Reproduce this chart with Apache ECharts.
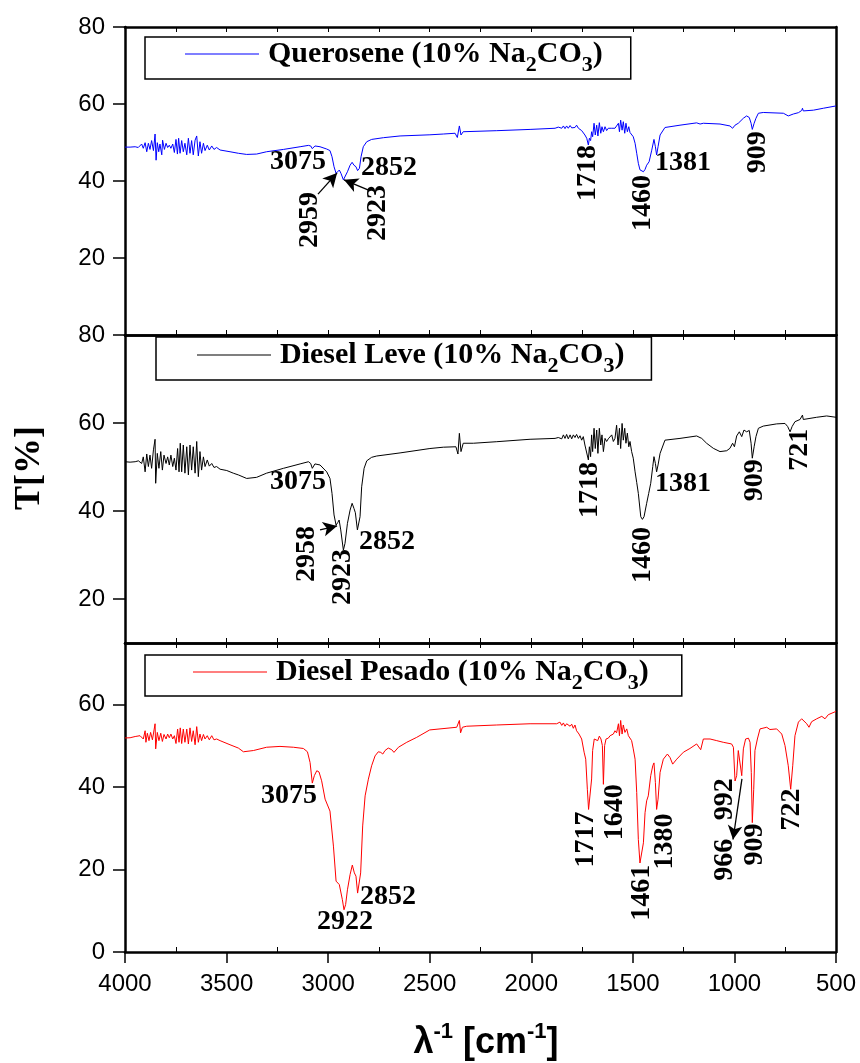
<!DOCTYPE html>
<html>
<head>
<meta charset="utf-8">
<script src="https://cdn.jsdelivr.net/npm/echarts@6/dist/echarts.min.js"></script>
<style>html,body{margin:0;padding:0;background:#fff}#c{width:860px;height:1063px}</style>
</head>
<body>
<div id="c"></div>
<script>
// ---- data: [wavenumber cm-1, T %] ----
const querosene = [[4000,48.8],[3975,48.8],[3950,48.9],[3935,48.7],
[3926,48.9],[3918,49.6],[3910,48.5],[3901,49.95],[3893,47.6],[3885,49.8],[3877,48.2],[3869,50.5],[3860,47.9],[3852,52.2],[3847,45.4],[3841,49.95],[3834,47.6],[3828,49.6],[3819,46.8],[3815,50.6],[3806,48.2],[3798,49.8],[3790,48.7],[3782,49.3],[3774,48.5],[3765,49.6],[3757,47.4],[3749,50.8],[3742,47.0],[3736,51.1],[3729,47.2],[3721,50.5],[3713,47.6],[3705,49.8],[3696,46.8],[3688,51.1],[3680,47.2],[3672,50.5],[3664,46.8],[3655,50.6],[3647,51.7],[3639,46.5],[3631,50.2],[3623,47.2],[3614,49.8],[3606,47.9],[3595,49.3],[3585,48.05],[3573,49.1],[3562,48.2],[3549,48.7],[3532,48.05],[3483,47.6],[3442,47.2],
[3401,46.9],[3352,47.0],[3303,47.6],[3220,48.2],[3138,48.9],[3097,49.25],[3086,49.1],[3078,48.4],[3065,49.1],[3040,48.9],[3007,48.3],[2991,47.9],[2981,46.3],[2971,43.7],[2961,42.0],[2953,42.4],[2945,42.85],[2937,42.0],[2925,40.3],[2917,40.4],[2905,42.4],[2892,44.1],[2882,44.85],[2873,44.1],[2863,43.7],[2855,42.7],[2846,43.3],[2838,46.3],[2827,48.9],[2810,50.2],[2786,50.8],[2728,51.25],[2646,51.7],[2499,52.0],[2433,52.2],[2375,52.4],[2364,51.3],[2354,54.3],[2346,51.95],[2335,52.8],[2170,53.07],[2006,53.4],
[1883,53.7],[1867,54.0],[1850,53.7],[1842,54.3],[1834,53.6],[1826,54.3],[1818,53.7],[1809,54.4],[1801,53.8],[1793,54.3],[1785,53.9],[1777,54.5],[1768,53.7],[1760,54.1],[1752,53.1],[1744,53.2],[1736,51.95],[1727,51.1],[1719,49.35],[1714,51.1],[1708,50.5],[1703,52.8],[1698,51.5],[1691,55.0],[1685,51.95],[1678,54.5],[1672,51.7],[1665,55.15],[1658,52.4],[1652,54.1],[1645,52.8],[1637,54.1],[1629,53.1],[1621,53.7],[1612,53.2],[1604,53.7],[1596,53.4],[1588,53.7],[1580,54.1],[1571,55.0],[1566,52.8],[1560,55.8],[1553,53.2],[1547,55.4],[1540,52.4],[1534,55.0],[1527,52.8],[1520,54.1],[1514,52.6],[1506,52.8],[1498,51.5],[1489,49.8],[1481,47.2],[1473,44.6],[1465,42.9],[1457,42.7],[1448,42.4],[1440,43.0],[1432,44.1],[1420,45.0],[1407,48.0],[1396,50.8],[1389,48.9],[1383,46.75],[1376,48.9],[1366,51.95],[1342,53.9],[1268,54.5],[1186,55.1],[1169,54.8],[1153,55.0],[1071,54.8],[1022,54.3],[1009,53.7],[997,54.5],[981,55.0],[956,56.3],[940,56.9],[927,56.5],[918,55.0],[912,53.4],[903,55.0],[894,56.3],[882,57.6],[858,57.8],[759,57.6],[735,56.9],[726,56.4],[710,57.4],[685,57.75],[669,58.3],[665,58.9],[661,58.2],[611,58.4],[562,58.9],[500,59.5]];

const dieselLeve = [[4000,51.2],[3975,51.1],[3950,51.2],[3943,50.8],[3934,51.4],
[3926,51.7],[3918,50.8],[3910,52.3],[3901,48.9],[3893,52.96],[3885,50.1],[3877,52.7],[3869,49.7],[3860,53.9],[3852,56.3],[3849,46.3],[3841,53.1],[3833,49.7],[3824,53.5],[3816,49.3],[3808,52.7],[3798,50.8],[3790,52.3],[3782,50.45],[3774,52.7],[3765,50.1],[3757,52.0],[3749,49.3],[3741,54.2],[3734,48.9],[3728,55.4],[3721,48.9],[3713,55.0],[3705,48.6],[3696,54.6],[3688,48.2],[3680,55.0],[3672,49.3],[3664,54.6],[3655,48.6],[3647,55.8],[3639,47.8],[3631,53.5],[3623,49.3],[3614,52.3],[3606,50.1],[3595,51.6],[3585,50.2],[3573,50.8],[3562,49.9],[3549,50.1],[3532,49.5],[3499,49.2],[3467,48.6],[3442,48.2],
[3401,47.4],[3352,47.65],[3303,48.6],[3220,49.7],[3138,50.7],[3097,51.2],[3086,50.8],[3078,49.7],[3065,50.7],[3040,50.46],[3007,48.9],[2991,47.4],[2981,44.0],[2971,39.1],[2961,36.8],[2953,37.35],[2946,37.95],[2938,35.7],[2925,31.1],[2917,32.65],[2905,37.2],[2892,40.2],[2882,41.75],[2873,40.6],[2866,39.6],[2856,35.7],[2850,35.3],[2843,38.7],[2835,45.5],[2823,49.7],[2810,51.4],[2786,52.2],[2761,52.5],[2646,53.2],[2499,54.2],[2433,54.5],[2371,54.6],[2361,52.95],[2354,57.65],[2346,53.5],[2335,55.4],[2285,55.4],[2170,55.75],[2006,56.3],
[1883,56.5],[1867,56.7],[1859,57.1],[1850,56.4],[1842,57.3],[1834,56.5],[1826,57.4],[1818,56.4],[1809,57.3],[1801,56.4],[1793,57.3],[1785,56.7],[1777,57.4],[1768,56.5],[1760,57.1],[1752,56.1],[1744,56.9],[1736,55.0],[1727,55.4],[1719,51.6],[1714,54.6],[1708,52.35],[1703,57.3],[1698,53.5],[1691,58.8],[1685,54.2],[1678,58.4],[1672,53.1],[1665,58.8],[1658,55.0],[1652,57.3],[1645,53.5],[1637,56.5],[1629,55.8],[1621,56.4],[1612,56.1],[1604,57.3],[1596,55.8],[1588,56.5],[1580,59.5],[1573,55.0],[1566,58.8],[1560,54.2],[1553,59.9],[1547,56.1],[1540,58.8],[1534,55.4],[1527,57.7],[1520,54.6],[1514,55.8],[1506,53.5],[1498,52.0],[1489,48.9],[1481,46.5],[1473,44.0],[1461,38.7],[1453,38.1],[1445,38.7],[1432,41.75],[1422,44.0],[1412,46.3],[1402,50.1],[1396,52.35],[1389,50.8],[1383,48.9],[1376,50.46],[1366,53.1],[1342,56.1],[1268,56.5],[1186,57.05],[1161,56.5],[1137,55.4],[1104,54.25],[1071,53.5],[1038,53.7],[1022,54.25],[1009,55.4],[1000,54.6],[989,57.05],[976,58.0],[964,56.9],[953,58.4],[940,58.0],[927,58.3],[918,55.4],[912,52.0],[903,54.6],[894,56.9],[882,58.8],[858,59.3],[792,59.8],[751,59.9],[738,59.2],[726,58.0],[716,59.2],[702,60.3],[677,60.8],[665,61.8],[661,60.8],[595,61.3],[546,61.6],[500,61.3]];

const dieselPesado = [[4000,51.95],[3975,52.0],[3950,52.3],[3926,52.5],
[3918,52.9],[3910,51.7],[3901,53.7],[3897,50.9],[3890,53.1],[3882,51.3],[3874,53.3],[3865,51.5],[3857,53.9],[3852,55.4],[3849,49.3],[3841,53.3],[3833,51.3],[3824,53.1],[3816,51.1],[3808,52.8],[3798,51.7],[3790,52.9],[3782,52.0],[3774,52.9],[3765,51.7],[3757,52.5],[3749,50.6],[3741,54.1],[3734,50.9],[3728,54.4],[3721,50.6],[3713,54.1],[3705,50.9],[3696,54.1],[3688,50.5],[3680,54.4],[3672,51.1],[3664,53.7],[3655,50.3],[3647,54.7],[3639,50.9],[3631,52.9],[3623,51.3],[3614,52.8],[3606,51.7],[3595,52.5],[3585,51.5],[3573,52.5],[3562,51.5],[3549,51.7],[3532,51.3],[3483,50.3],[3442,49.5],
[3417,48.6],[3368,48.9],[3303,49.7],[3237,49.9],[3171,49.7],[3122,49.4],[3102,48.6],[3089,46.0],[3078,41.0],[3068,42.8],[3056,44.0],[3045,43.7],[3032,41.55],[3015,37.1],[2991,34.2],[2974,25.7],[2961,17.2],[2953,16.75],[2945,16.35],[2938,15.9],[2930,12.7],[2922,10.25],[2914,11.5],[2905,15.1],[2892,18.8],[2881,21.1],[2871,19.2],[2863,18.4],[2855,14.3],[2848,13.9],[2840,19.2],[2830,30.6],[2818,37.9],[2802,41.95],[2786,45.2],[2769,47.6],[2753,48.6],[2741,48.45],[2731,48.05],[2720,48.9],[2704,49.5],[2687,49.1],[2676,48.45],[2654,49.7],[2613,50.9],[2564,52.1],[2500,53.9],[2367,54.55],[2359,54.3],[2354,56.2],[2348,53.2],[2339,54.55],[2318,54.8],[2170,55.1],[2006,55.4],
[1875,55.4],[1859,55.8],[1850,55.0],[1842,55.6],[1834,54.8],[1826,55.4],[1809,54.8],[1801,55.3],[1793,54.3],[1785,55.1],[1777,53.7],[1765,52.9],[1752,51.7],[1740,48.5],[1732,46.8],[1724,39.5],[1718,34.6],[1709,34.6],[1703,42.0],[1698,48.9],[1690,51.7],[1681,52.1],[1673,51.3],[1665,52.4],[1657,51.7],[1650,50.1],[1645,40.7],[1639,50.1],[1632,51.7],[1621,51.9],[1612,52.5],[1604,52.1],[1596,52.9],[1588,53.7],[1580,53.2],[1571,55.4],[1566,52.5],[1560,56.2],[1553,52.9],[1547,55.1],[1539,53.3],[1530,54.15],[1522,52.5],[1514,52.5],[1506,51.3],[1498,49.3],[1489,46.8],[1481,38.7],[1473,27.3],[1465,21.6],[1457,22.0],[1448,26.5],[1440,33.8],[1432,36.7],[1424,37.9],[1412,42.8],[1402,45.2],[1396,45.9],[1389,41.1],[1383,34.6],[1376,37.1],[1366,43.6],[1350,46.8],[1330,48.05],[1317,47.2],[1304,45.6],[1284,46.8],[1251,48.5],[1219,49.4],[1186,50.5],[1178,50.2],[1166,49.1],[1153,51.7],[1145,52.1],[1120,51.7],[1087,51.3],[1055,50.9],[1014,50.5],[1005,49.7],[997,41.5],[989,42.8],[981,48.9],[972,48.5],[964,42.8],[956,49.3],[945,51.7],[931,51.9],[923,50.9],[917,43.6],[912,31.4],[905,39.5],[899,48.9],[887,51.7],[874,54.15],[841,54.55],[825,54.0],[792,54.15],[767,52.9],[751,50.1],[735,45.2],[723,39.5],[713,45.2],[702,52.5],[685,55.8],[669,56.6],[661,56.2],[644,55.4],[633,54.55],[620,55.9],[595,56.6],[570,57.2],[554,56.6],[538,57.6],[500,58.4]];

// peak labels: [text, wavenumber, T, rotation]
const peaks1 = [['3075',3148,44.9,0],['2959',3089,29.9,90],['2923',2755,31.7,90],['2852',2700,43.4,0],['1718',1721,42.1,90],['1460',1450,34.3,90],['1381',1253,44.7,0],['909',884,47.5,90]];
const peaks2 = [['3075',3148,46.6,0],['2958',3104,30.2,90],['2923',2927,25.0,90],['2852',2710,33.0,0],['1718',1711,44.8,90],['1460',1450,30.0,90],['1381',1253,46.1,0],['909',899,47.0,90],['721',677,53.9,90]];
const peaks3 = [['3075',3193,37.8,0],['2922',2917,7.3,0],['2852',2705,13.4,0],['1717',1731,27.3,90],['1640',1588,33.9,90],['1461',1455,14.4,90],['1380',1342,26.8,90],['992',1046,37.1,90],['966',1046,22.4,90],['909',899,26.1,90],['722',717,34.6,90]];
// arrows: [[wn1,T1],[wn2,T2]] (head at second point)
const arrows1 = [[[3050,36.6],[2956,42.1]],[[2804,37.7],[2922,40.3]]];
const arrows2 = [[[3040,35.7],[2956,36.6]]];
const arrows3 = [[[963,42.0],[1007,27.3]]];

const names = ['Querosene', 'Diesel Leve', 'Diesel Pesado'];
const colors = ['#0000ff', '#000000', '#ff0000'];
const yRanges = [[0, 80], [10, 80], [0, 75]];
const yTicks = [[20, 40, 60, 80], [20, 40, 60, 80], [0, 20, 40, 60]];
const xTicks = [4000, 3500, 3000, 2500, 2000, 1500, 1000, 500];
const xMinorTicks = [3750, 3250, 2750, 2250, 1750, 1250, 750];

const SERIF = "'Liberation Serif','Times New Roman',serif";
const SANS = "'Liberation Sans',Arial,sans-serif";

const chart = echarts.init(document.getElementById('c'), null, {renderer: 'canvas'});

const grids = [
  {left: 125, right: 24, top: 27, height: 308},
  {left: 125, right: 24, top: 335, height: 308},
  {left: 125, right: 24, top: 643, height: 309}
];

const xAxes = [], yAxes = [], series = [], legends = [];
const legendBoxes = [
  {left: 145, top: 37, padding: [2, 28, 3, 40]},
  {left: 156, top: 337, padding: [3, 27, 3, 41]},
  {left: 145, top: 655, padding: [2, 33, 2, 48]}
];
const seriesData = [querosene, dieselLeve, dieselPesado];
const peaksAll = [peaks1, peaks2, peaks3];
const arrowsAll = [arrows1, arrows2, arrows3];
const plain = v => String(v);

for (let i = 0; i < 3; i++) {
  const base = {type: 'value', gridIndex: i, min: 500, max: 4000, inverse: true, interval: 250,
    splitLine: {show: false}, axisLabel: {show: false},
    axisLine: {show: true, onZero: false, lineStyle: {color: '#000', width: 2.5}},
    axisTick: {show: true, inside: true, length: 5, lineStyle: {color: '#000', width: 1}}};
  const bottom = JSON.parse(JSON.stringify(base));
  bottom.position = 'bottom';
  if (i === 2) bottom.axisTick.customValues = xMinorTicks;
  xAxes.push(bottom);                       // index 2*i
  const top = JSON.parse(JSON.stringify(base));
  top.position = 'top';
  xAxes.push(top);                          // index 2*i+1

  yAxes.push({type: 'value', gridIndex: i, min: yRanges[i][0], max: yRanges[i][1], position: 'left',
    splitLine: {show: false},
    axisLine: {show: true, onZero: false, lineStyle: {color: '#000', width: 2.5}},
    axisTick: {show: true, inside: false, length: 12, customValues: yTicks[i], lineStyle: {color: '#000', width: 1.5}},
    axisLabel: {show: true, customValues: yTicks[i], formatter: plain, margin: 20, color: '#000', fontFamily: SANS, fontSize: 24}});
  yAxes.push({type: 'value', gridIndex: i, min: yRanges[i][0], max: yRanges[i][1], position: 'right',
    splitLine: {show: false}, axisTick: {show: false}, axisLabel: {show: false},
    axisLine: {show: true, onZero: false, lineStyle: {color: '#000', width: 2.5}}});

  series.push({type: 'line', name: names[i], xAxisIndex: 2 * i, yAxisIndex: 2 * i,
    data: seriesData[i], symbol: 'none', showSymbol: false, sampling: null,
    lineStyle: {color: colors[i], width: 1}, itemStyle: {color: colors[i]}, z: 3});

  series.push({type: 'scatter', name: 'peaks' + i, xAxisIndex: 2 * i, yAxisIndex: 2 * i,
    symbolSize: 1, itemStyle: {color: 'rgba(255,255,255,0)', opacity: 1}, silent: true, z: 5,
    data: peaksAll[i].map(p => ({name: p[0], value: [p[1], p[2]], label: {rotate: p[3]}})),
    label: {show: true, formatter: '{b}', position: 'inside', color: '#000', opacity: 1, textBorderWidth: 0,
      textBorderColor: 'transparent', textShadowBlur: 0,
      fontFamily: SERIF, fontWeight: 'bold', fontSize: 28},
    markLine: {silent: true, symbol: ['none', 'arrow'], symbolSize: [11, 14], animation: false,
      label: {show: false}, lineStyle: {color: '#000', width: 1.3, type: 'solid', opacity: 1},
      data: arrowsAll[i].map(a => [{coord: a[0]}, {coord: a[1]}])}});

  legends.push({data: [{name: names[i], icon: 'rect'}], orient: 'horizontal', left: legendBoxes[i].left, top: legendBoxes[i].top,
    padding: legendBoxes[i].padding, borderColor: '#000', borderWidth: 1.5, backgroundColor: '#fff',
    itemWidth: 74, itemHeight: 1.2, selectedMode: false,
    itemStyle: {color: colors[i], borderWidth: 0},
    formatter: n => '{g|}{b|' + n + ' (10% Na}{s|2}{b|CO}{s|3}{b|)}',
    textStyle: {color: '#000', rich: {
      g: {width: 4, lineHeight: 44},
      b: {fontFamily: SERIF, fontWeight: 'bold', fontSize: 30, lineHeight: 44, verticalAlign: 'middle', color: '#000'},
      s: {fontFamily: SERIF, fontWeight: 'bold', fontSize: 22, lineHeight: 18, verticalAlign: 'bottom', color: '#000'}}}});
}

// extra bottom axis carrying the tick labels of the lowest panel
xAxes.push({type: 'value', gridIndex: 2, position: 'bottom', min: 500, max: 4000, inverse: true, interval: 500,
  splitLine: {show: false}, axisLine: {show: false},
  axisTick: {show: true, inside: false, length: 11, customValues: xTicks, lineStyle: {color: '#000', width: 1.5}},
  axisLabel: {show: true, customValues: xTicks, formatter: plain, margin: 20, color: '#000', fontFamily: SANS, fontSize: 24}});

chart.setOption({
  animation: false,
  backgroundColor: '#fff',
  grid: grids,
  xAxis: xAxes,
  yAxis: yAxes,
  legend: legends,
  series: series,
  graphic: [
    {type: 'text', x: 30, y: 468, rotation: Math.PI / 2, z: 10,
      style: {text: 'T[%]', fontFamily: SERIF, fontWeight: 'bold', fontSize: 36, fill: '#000', align: 'center', verticalAlign: 'middle'}},
    {type: 'text', x: 486, y: 1043, z: 10,
      style: {text: '{m|λ}{u|-1}{m| [cm}{u|-1}{m|]}', align: 'center', verticalAlign: 'middle', fill: '#000',
        rich: {m: {fontFamily: SANS, fontWeight: 'bold', fontSize: 36, lineHeight: 44, verticalAlign: 'middle', fill: '#000'},
               u: {fontFamily: SANS, fontWeight: 'bold', fontSize: 22, lineHeight: 22, verticalAlign: 'top', fill: '#000'}}}}
  ]
});
</script>
</body>
</html>
